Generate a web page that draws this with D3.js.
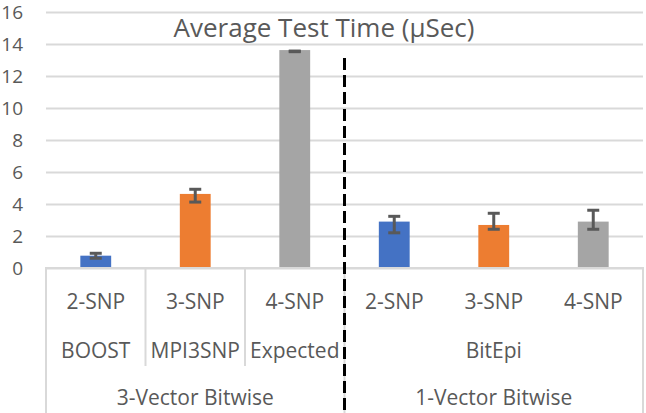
<!DOCTYPE html>
<html>
<head>
<meta charset="utf-8">
<script src="https://cdn.jsdelivr.net/npm/d3@7"></script>
<style>
  html, body { margin: 0; padding: 0; background: #fff; }
  svg { display: block; }
  text { font-family: "Open Sans", sans-serif; fill: #595959; }
</style>
</head>
<body>
<svg id="chart" width="646" height="413"></svg>
<script>
// ---- data ----
const categories = ["2-SNP", "3-SNP", "4-SNP", "2-SNP", "3-SNP", "4-SNP"];
const tools = ["BOOST", "MPI3SNP", "Expected", "BitEpi", "BitEpi", "BitEpi"];
const methods = ["3-Vector Bitwise", "3-Vector Bitwise", "3-Vector Bitwise", "1-Vector Bitwise", "1-Vector Bitwise", "1-Vector Bitwise"];
const values = [0.77, 4.63, 13.62, 2.9, 2.69, 2.9];
const errLow = [0.61, 4.12, 13.52, 2.2, 2.42, 2.42];
const errHigh = [0.92, 4.92, 13.56, 3.23, 3.42, 3.61];
const colors = ["#4472C4", "#ED7D31", "#A5A5A5", "#4472C4", "#ED7D31", "#A5A5A5"];
const yTicks = [0, 2, 4, 6, 8, 10, 12, 14, 16];
const title = "Average Test Time (µSec)";

// ---- layout ----
const svg = d3.select("#chart");
const W = 646, H = 413;
const plotL = 46, plotR = 643, plotT = 12, plotB = 268;
const gridColor = "#D9D9D9";

const idx = d3.range(categories.length);
const x = d3.scaleBand().domain(idx).range([plotL, plotR]).paddingInner(0).paddingOuter(0);
const y = d3.scaleLinear().domain([0, 16]).range([plotB, plotT]);
const barW = x.bandwidth() * 0.31;

// gridlines
const yAxis = d3.axisLeft(y).tickValues(yTicks).tickSize(-(plotR - plotL)).tickPadding(23);
const gy = svg.append("g").attr("transform", `translate(${plotL},0)`).call(yAxis);
gy.select(".domain").remove();
gy.selectAll(".tick line").attr("stroke", gridColor).attr("stroke-width", 2);
gy.selectAll(".tick text").style("font-size", "19px").attr("fill", "#595959")
  .style("font-family", '"Open Sans", sans-serif').attr("dy", "0.32em");

// title
svg.append("text").attr("x", 324).attr("y", 37).attr("text-anchor", "middle")
  .style("font-size", "26px").text(title);

// bars
svg.append("g").selectAll("rect").data(idx).join("rect")
  .attr("x", i => x(i) + x.bandwidth() / 2 - barW / 2)
  .attr("width", barW)
  .attr("y", i => y(values[i]))
  .attr("height", i => y(0) - y(values[i]))
  .attr("fill", i => colors[i]);

// error bars
const eb = svg.append("g").attr("stroke", "#595959").attr("stroke-width", 3);
idx.forEach(i => {
  const cx = x(i) + x.bandwidth() / 2;
  const capW = 6;
  eb.append("line").attr("x1", cx).attr("x2", cx).attr("y1", y(errLow[i])).attr("y2", y(errHigh[i]));
  eb.append("line").attr("x1", cx - capW).attr("x2", cx + capW).attr("y1", y(errLow[i])).attr("y2", y(errLow[i]));
  eb.append("line").attr("x1", cx - capW).attr("x2", cx + capW).attr("y1", y(errHigh[i])).attr("y2", y(errHigh[i]));
});

// category axis frame
const ax = svg.append("g").attr("stroke", gridColor).attr("stroke-width", 2).attr("fill", "none");
ax.append("path").attr("d", `M${plotL},${H} V${plotB} H${plotR} V${H}`);
idx.forEach(i => {
  if (i > 0 && methods[i] === methods[i - 1] && tools[i] !== tools[i - 1]) {
    ax.append("line").attr("x1", x(i)).attr("x2", x(i)).attr("y1", plotB).attr("y2", 366);
  }
  if (i > 0 && methods[i] !== methods[i - 1]) {
    ax.append("line").attr("x1", x(i)).attr("x2", x(i)).attr("y1", plotB).attr("y2", H);
  }
});

// labels level 1
svg.append("g").selectAll("text").data(idx).join("text")
  .attr("x", i => x(i) + x.bandwidth() / 2).attr("y", 309)
  .attr("text-anchor", "middle").style("font-size", "21px")
  .text(i => categories[i]);

function groups(arr) {
  const out = [];
  arr.forEach((v, i) => {
    if (out.length && out[out.length - 1].label === v) out[out.length - 1].end = i;
    else out.push({ label: v, start: i, end: i });
  });
  return out;
}
svg.append("g").selectAll("text").data(groups(tools)).join("text")
  .attr("x", d => (x(d.start) + x(d.end) + x.bandwidth()) / 2).attr("y", 358)
  .attr("text-anchor", "middle").style("font-size", "21px")
  .text(d => d.label);
svg.append("g").selectAll("text").data(groups(methods)).join("text")
  .attr("x", d => (x(d.start) + x(d.end) + x.bandwidth()) / 2).attr("y", 405)
  .attr("text-anchor", "middle").style("font-size", "21px")
  .text(d => d.label);

// dashed separator
svg.append("line").attr("x1", x(3)).attr("x2", x(3)).attr("y1", 58).attr("y2", H)
  .attr("stroke", "#000").attr("stroke-width", 3).attr("stroke-dasharray", "12,5");
</script>
</body>
</html>
